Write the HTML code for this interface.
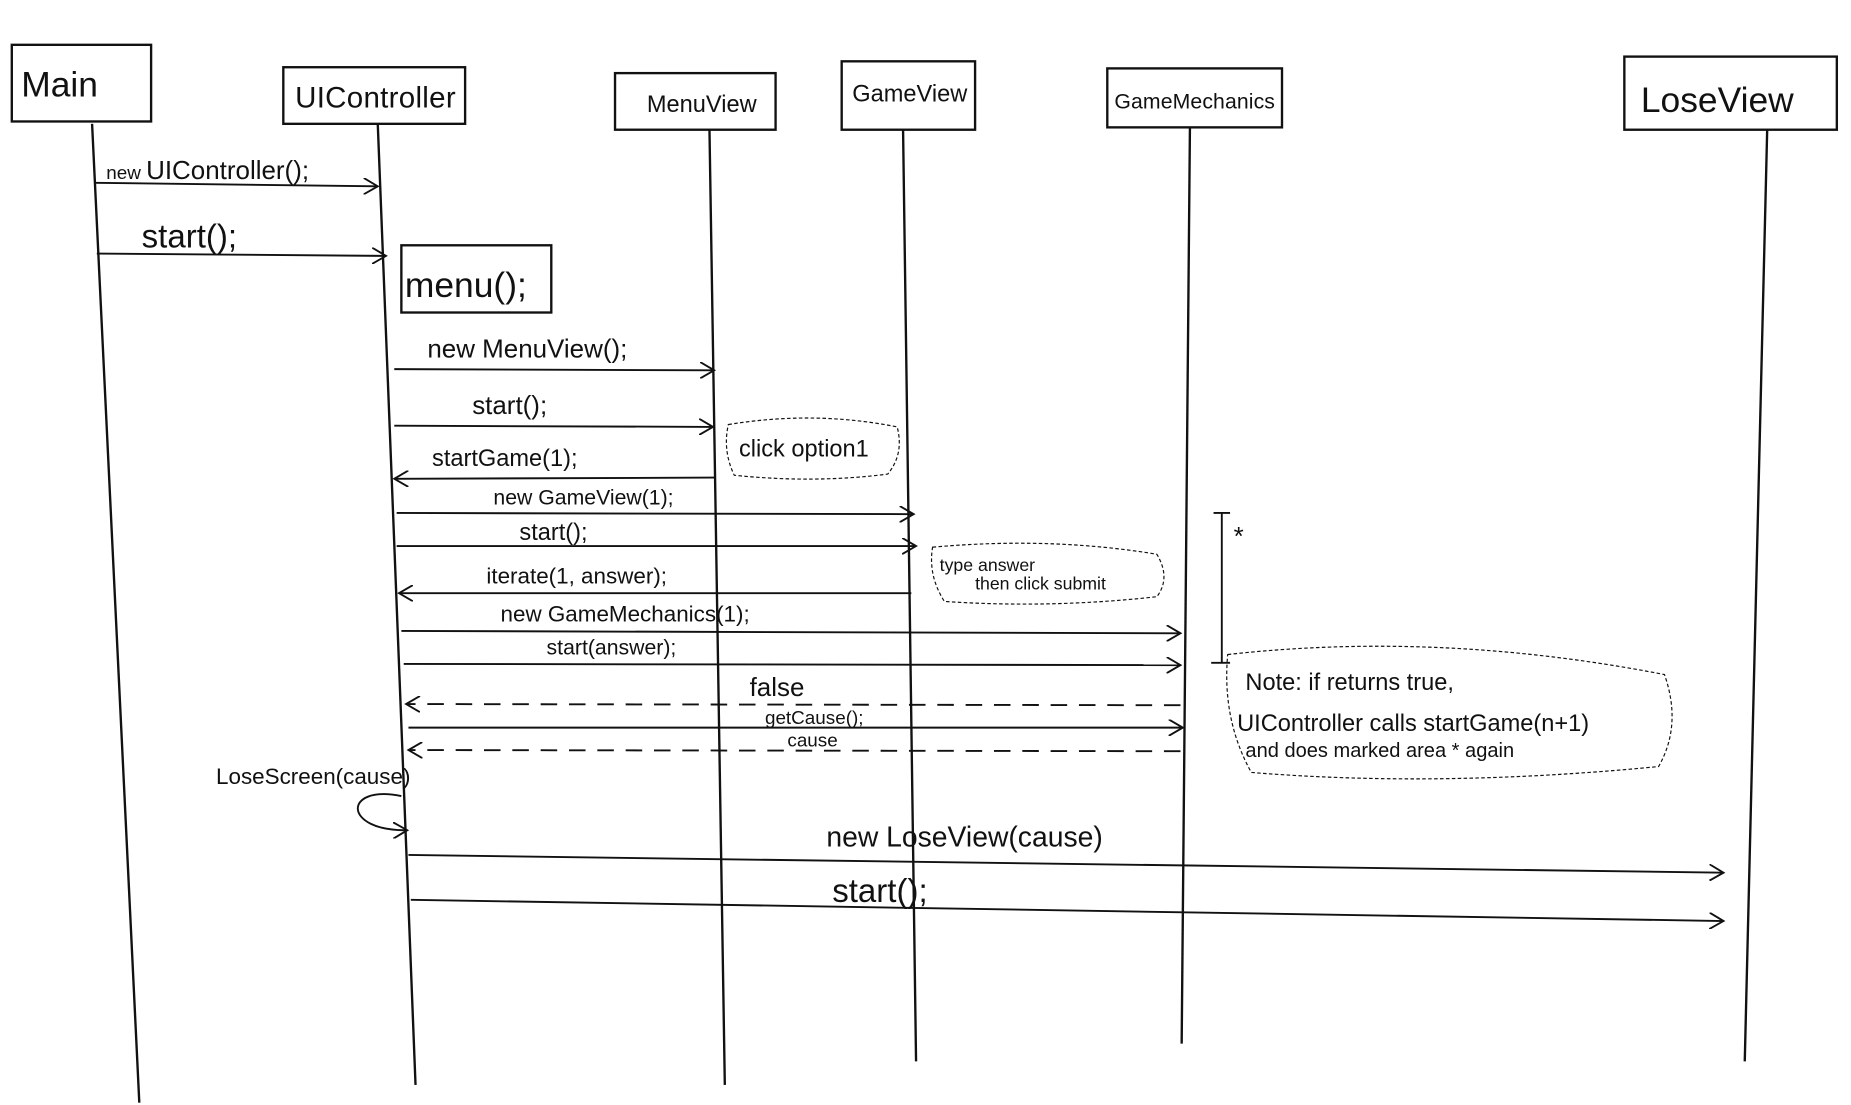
<!DOCTYPE html>
<html><head><meta charset="utf-8"><style>
html,body{margin:0;padding:0;background:#fff;}
svg{display:block;}
text{font-family:"Liberation Sans",sans-serif;fill:#111;}
</style></head><body>
<svg width="1851" height="1105" viewBox="0 0 1568 937" preserveAspectRatio="none" xmlns="http://www.w3.org/2000/svg">
<defs>
<marker id="a" markerWidth="14" markerHeight="14" refX="12" refY="7" orient="auto" markerUnits="userSpaceOnUse">
<path d="M0,0 L12,7 L0,14" fill="none" stroke="#111" stroke-width="1.6"/></marker>
</defs>
<rect width="1568" height="937" fill="#fff"/>
<g fill="none" stroke="#111" stroke-width="2">
<rect x="10" y="38" width="118" height="65"/>
<rect x="240" y="57" width="154" height="48"/>
<rect x="521" y="62" width="136" height="48"/>
<rect x="713" y="52" width="113" height="58"/>
<rect x="938" y="58" width="148" height="50"/>
<rect x="1376" y="48" width="180" height="62"/>
<rect x="340" y="208" width="127" height="57"/>
<line x1="78" y1="105" x2="118" y2="935"/>
<line x1="320" y1="105" x2="352" y2="920"/>
<line x1="601" y1="110" x2="614" y2="920"/>
<line x1="765" y1="110" x2="776" y2="900"/>
<line x1="1008" y1="108" x2="1001" y2="885"/>
<line x1="1497" y1="110" x2="1478" y2="900"/>
</g>
<g stroke="#111" stroke-width="1.6" fill="none" marker-end="url(#a)">
<line x1="80" y1="155" x2="320" y2="158"/>
<line x1="82" y1="215" x2="327" y2="217"/>
<line x1="334" y1="313" x2="605" y2="314"/>
<line x1="334" y1="361" x2="604" y2="362"/>
<line x1="605" y1="405" x2="334" y2="406"/>
<line x1="336" y1="435" x2="774" y2="436"/>
<line x1="336" y1="463" x2="776" y2="463"/>
<line x1="772" y1="503" x2="338" y2="503"/>
<line x1="340" y1="535" x2="1000" y2="537"/>
<line x1="342" y1="563" x2="1000" y2="564"/>
<line x1="1000" y1="598" x2="344" y2="597" stroke-dasharray="14,10"/>
<line x1="346" y1="617" x2="1002" y2="617"/>
<line x1="1000" y1="637" x2="346" y2="636" stroke-dasharray="14,10"/>
<line x1="346" y1="725" x2="1460" y2="740"/>
<line x1="348" y1="763" x2="1460" y2="781"/>
<path d="M340,675 C290,665 290,705 345,704"/>
</g>
<g stroke="#111" stroke-width="1.6" fill="none">
<line x1="1035" y1="435" x2="1035" y2="562"/>
<line x1="1028" y1="435" x2="1042" y2="435"/>
<line x1="1026" y1="562" x2="1042" y2="562"/>
<path d="M617,360 Q690,348 760,362 Q766,385 752,402 Q690,410 622,403 Q612,382 617,360Z" stroke-width="1" stroke-dasharray="3,2"/>
<path d="M790,464 Q890,455 980,470 Q992,490 980,506 Q890,516 800,510 Q786,488 790,464Z" stroke-width="1" stroke-dasharray="3,2"/>
<path d="M1040,555 Q1220,535 1410,572 Q1425,615 1405,650 Q1220,668 1060,655 Q1035,610 1040,555Z" stroke-width="1" stroke-dasharray="3,2"/>
</g>
<g font-size="26">
<text x="18" y="82" font-size="30">Main</text>
<text x="250" y="91" font-size="25" textLength="136">UIController</text>
<text x="548" y="95" font-size="20">MenuView</text>
<text x="722" y="86" font-size="20">GameView</text>
<text x="944" y="92" font-size="18" textLength="136">GameMechanics</text>
<text x="1390" y="95" font-size="30">LoseView</text>
<text x="90" y="152" font-size="22"><tspan font-size="16">new </tspan>UIController();</text>
<text x="120" y="210" font-size="28">start();</text>
<text x="343" y="252" font-size="30">menu();</text>
<text x="362" y="303" font-size="22">new MenuView();</text>
<text x="400" y="351" font-size="22">start();</text>
<text x="626" y="387" font-size="20">click option1</text>
<text x="366" y="395" font-size="20">startGame(1);</text>
<text x="418" y="428" font-size="18">new GameView(1);</text>
<text x="440" y="458" font-size="20">start();</text>
<text x="412" y="495" font-size="19">iterate(1, answer);</text>
<text x="796" y="484" font-size="15">type answer</text>
<text x="826" y="500" font-size="15">then click submit</text>
<text x="424" y="527" font-size="19">new GameMechanics(1);</text>
<text x="463" y="555" font-size="18">start(answer);</text>
<text x="1045" y="462" font-size="22">*</text>
<text x="1055" y="585" font-size="20">Note: if returns true,</text>
<text x="1048" y="620" font-size="20">UIController calls startGame(n+1)</text>
<text x="1055" y="642" font-size="17">and does marked area * again</text>
<text x="635" y="590" font-size="22">false</text>
<text x="648" y="614" font-size="16">getCause();</text>
<text x="667" y="633" font-size="16">cause</text>
<text x="183" y="665" font-size="19">LoseScreen(cause)</text>
<text x="700" y="718" font-size="24">new LoseView(cause)</text>
<text x="705" y="765" font-size="28">start();</text>
</g>
</svg>
</body></html>
